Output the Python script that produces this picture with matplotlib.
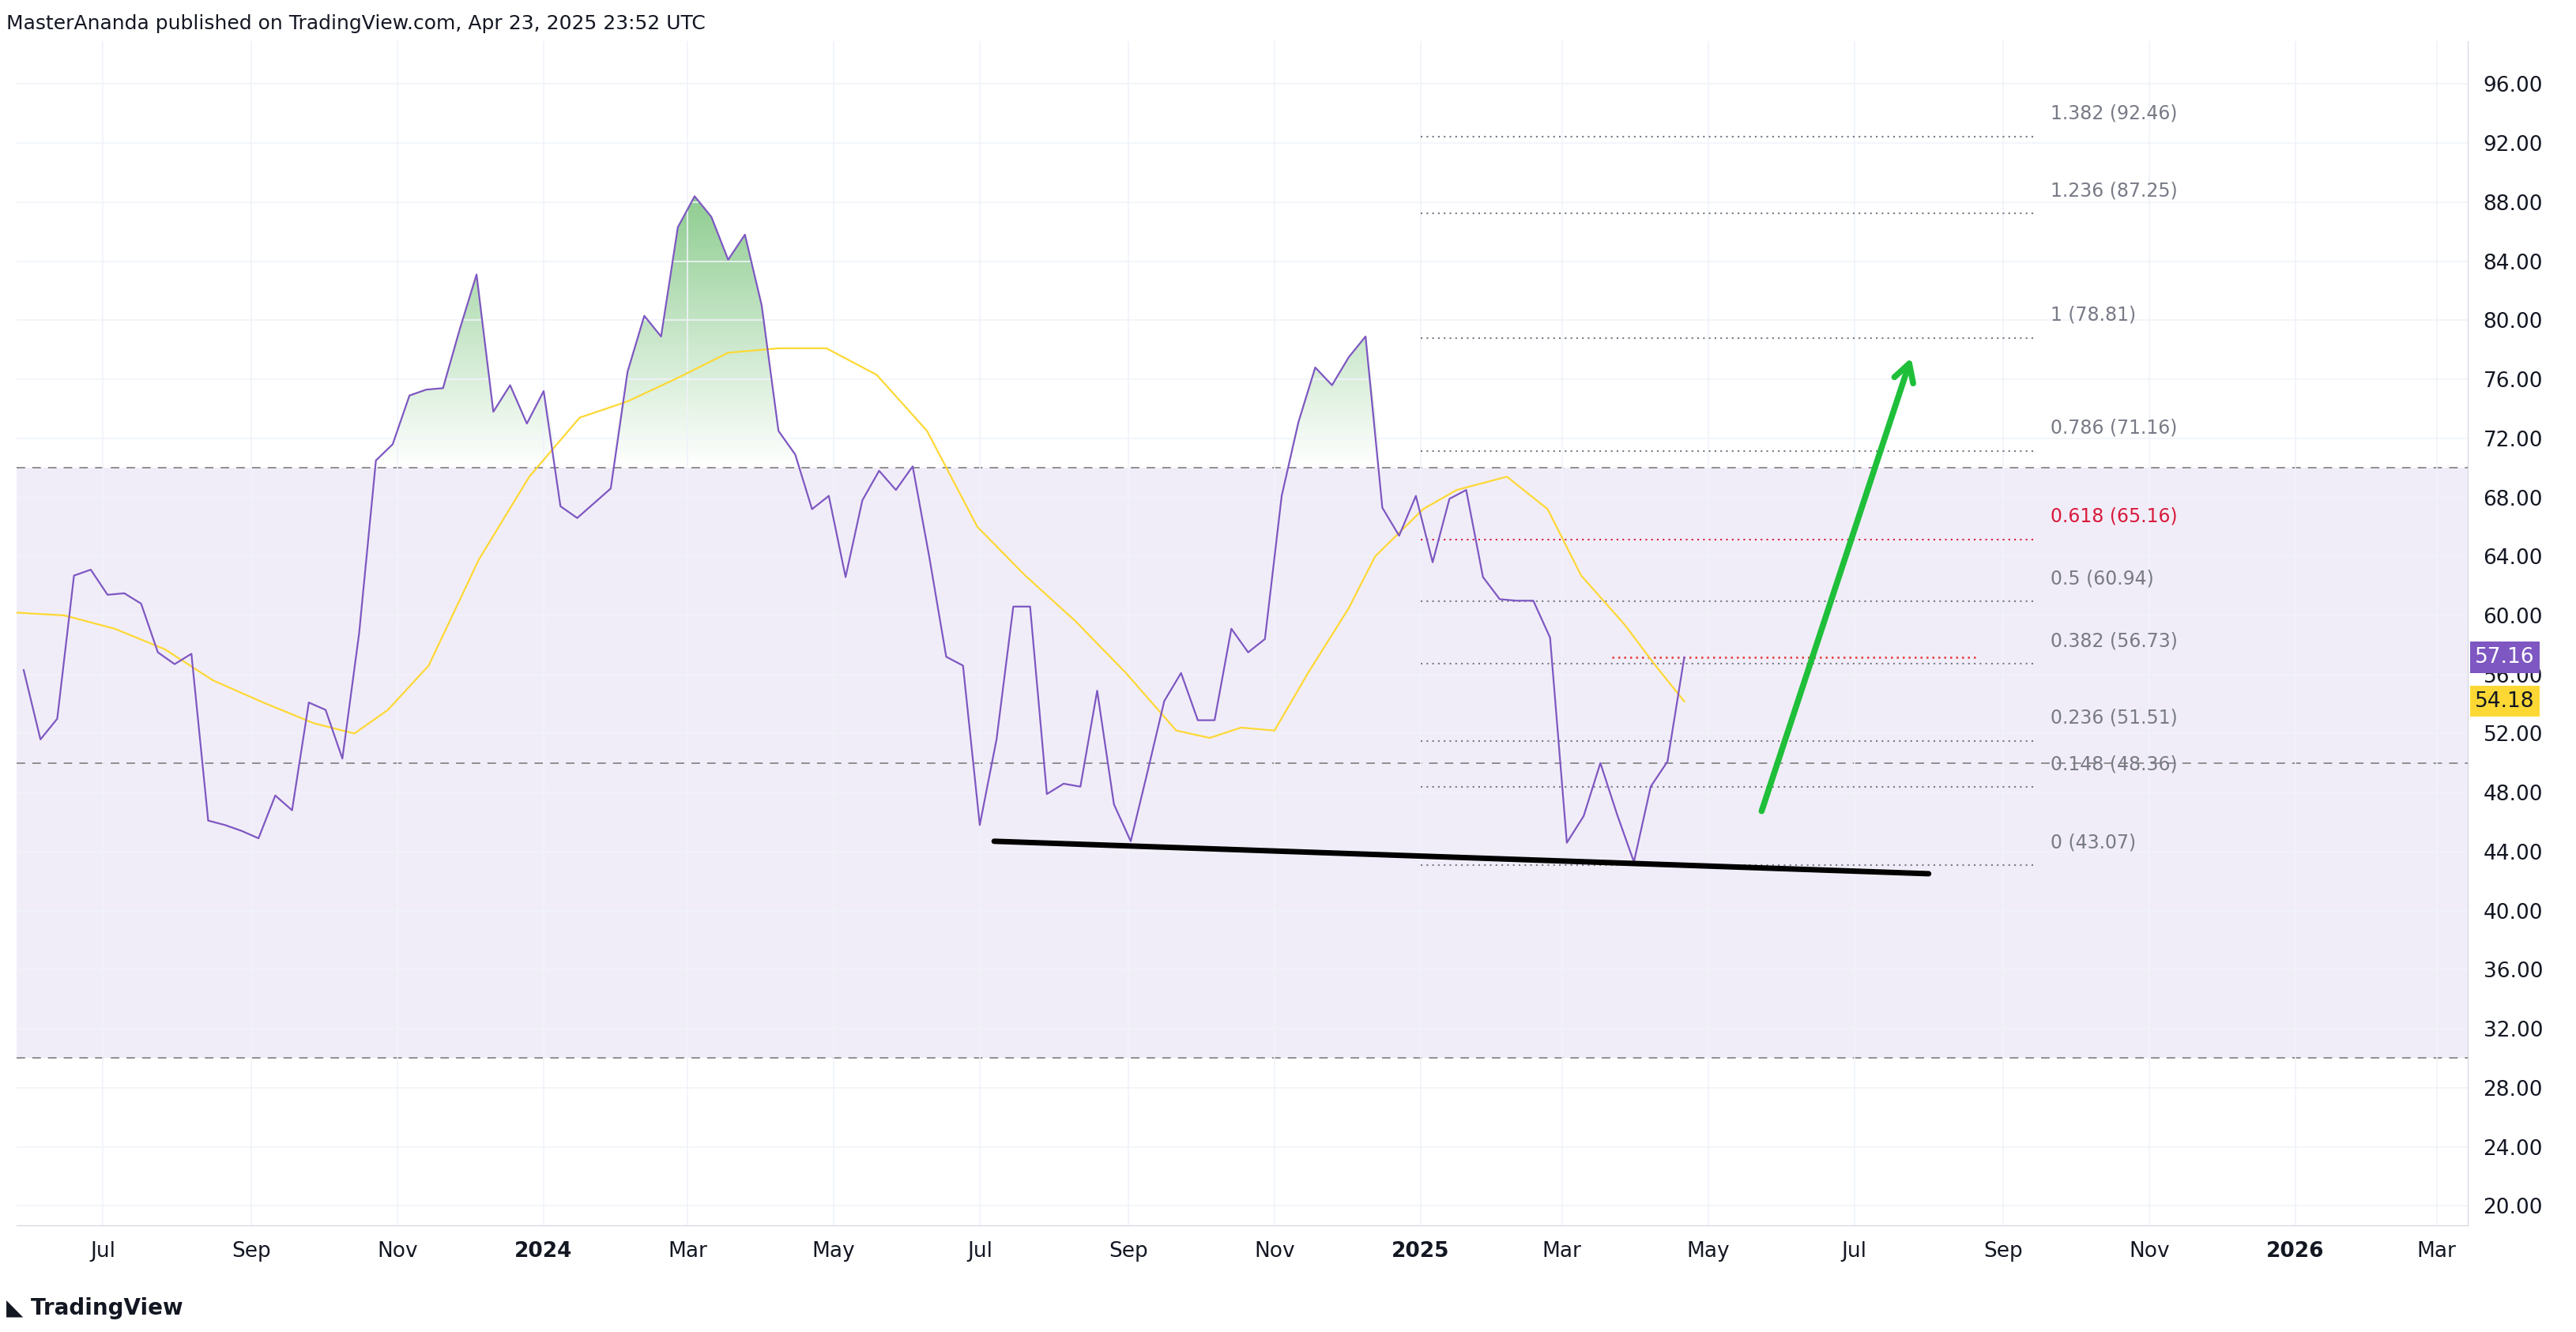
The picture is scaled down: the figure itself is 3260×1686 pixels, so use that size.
import numpy as np
import pandas as pd
import matplotlib
matplotlib.use("Agg")
import matplotlib.pyplot as plt
import matplotlib.dates as mdates
from matplotlib.path import Path
from matplotlib.colors import LinearSegmentedColormap
from matplotlib.transforms import blended_transform_factory

rsi_values = [56.3, 51.6, 53.0, 62.7, 63.1, 61.4, 61.5, 60.8, 57.5, 56.7, 57.4, 46.1, 45.8, 45.4, 44.9,
              47.8, 46.8, 54.1, 53.6, 50.3, 58.8, 70.5, 71.6, 74.9, 75.3, 75.4, 79.4, 83.1, 73.8, 75.6,
              73.0, 75.2, 67.4, 66.6, 67.6, 68.6, 76.5, 80.3, 78.9, 86.3, 88.4, 87.0, 84.1, 85.8, 81.0,
              72.5, 70.9, 67.2, 68.1, 62.6, 67.8, 69.8, 68.5, 70.1, 63.9, 57.2, 56.6, 45.8, 51.6, 60.6,
              60.6, 47.9, 48.6, 48.4, 54.9, 47.2, 44.7, 49.4, 54.2, 56.1, 52.9, 52.9, 59.1, 57.5, 58.4,
              68.1, 73.1, 76.8, 75.6, 77.5, 78.9, 67.3, 65.4, 68.1, 63.6, 67.9, 68.5, 62.6, 61.1, 61.0,
              61.0, 58.5, 44.6, 46.4, 50.0, 46.5, 43.3, 48.4, 50.1, 57.16]
rsi_end = "2025-04-21"

ma_dates = ["2023-05-25", "2023-06-15", "2023-07-06", "2023-07-27", "2023-08-16", "2023-09-06",
            "2023-09-27", "2023-10-14", "2023-10-28", "2023-11-14", "2023-12-05", "2023-12-26",
            "2024-01-16", "2024-02-05", "2024-02-26", "2024-03-18", "2024-04-08", "2024-04-28",
            "2024-05-19", "2024-06-09", "2024-06-30", "2024-07-20", "2024-08-10", "2024-08-31",
            "2024-09-21", "2024-10-05", "2024-10-18", "2024-11-01", "2024-11-15", "2024-12-02",
            "2024-12-13", "2025-01-02", "2025-01-16", "2025-02-06", "2025-02-23", "2025-03-09",
            "2025-03-27", "2025-04-09", "2025-04-21"]
ma_values = [60.2, 60.0, 59.1, 57.7, 55.6, 54.1, 52.7, 52.0, 53.6, 56.6, 63.8, 69.4, 73.4, 74.5,
             76.1, 77.8, 78.1, 78.1, 76.3, 72.5, 66.0, 62.7, 59.6, 56.1, 52.2, 51.7, 52.4, 52.2,
             56.1, 60.5, 64.0, 67.2, 68.5, 69.4, 67.2, 62.7, 59.4, 56.6, 54.18]

fib_ratios = ["0", "0.148", "0.236", "0.382", "0.5", "0.618", "0.786", "1", "1.236", "1.382"]
fib_levels = [43.07, 48.36, 51.51, 56.73, 60.94, 65.16, 71.16, 78.81, 87.25, 92.46]
fib_start, fib_end, fib_label_x = "2025-01-01", "2025-09-15", "2025-09-21"

trend_dates = ["2024-07-07", "2025-08-01"]
trend_values = [44.7, 42.5]
arrow_dates = ["2025-05-23", "2025-07-25"]
arrow_values = [46.6, 77.6]
last_line_dates = ["2025-03-22", "2025-08-21"]

PURPLE = "#7e57c2"
YELLOW = "#fdd835"

rsi_dates = pd.date_range(end=rsi_end, periods=len(rsi_values), freq="7D")
xr = mdates.date2num(rsi_dates)
yr = np.array(rsi_values)

fig = plt.figure(figsize=(32.6, 16.86), dpi=100)
ax = fig.add_axes([0.0064, 0.080, 0.9516, 0.889])
xmin, xmax = mdates.datestr2num("2023-05-26"), mdates.datestr2num("2026-03-14")
YLIM = (18.67, 98.9)

ax.axhspan(30, 70, color=PURPLE, alpha=0.1, lw=0, zorder=0)
for lvl in (30, 50, 70):
    ax.axhline(lvl, color="#888888", lw=1.3, ls=(0, (6, 5)), zorder=1)

poly = ax.fill_between(xr, np.maximum(yr, 70), 70, where=yr >= 70, interpolate=True,
                       color="none", lw=0)
paths = poly.get_paths()
if paths:
    cpath = Path.make_compound_path(*paths)
    cmap = LinearSegmentedColormap.from_list("g", [(0.30, 0.69, 0.31, 0.0), (0.30, 0.69, 0.31, 0.65)])
    grad = np.linspace(0, 1, 256).reshape(-1, 1)
    im = ax.imshow(grad, cmap=cmap, origin="lower", aspect="auto",
                   extent=[xmin, xmax, 70, 89], zorder=1)
    im.set_clip_path(cpath, transform=ax.transData)
ax.set_xlim(xmin, xmax)
ax.set_ylim(*YLIM)

ax.plot(mdates.datestr2num(ma_dates), ma_values, color=YELLOW, lw=1.6, zorder=3)
ax.plot(xr, yr, color=PURPLE, lw=1.6, zorder=4)

fs, fe, fl = map(mdates.datestr2num, (fib_start, fib_end, fib_label_x))
for r, v in zip(fib_ratios, fib_levels):
    c = "#d81b3c" if r == "0.618" else "#787b86"
    ax.plot([fs, fe], [v, v], color=c, lw=1.5, ls=(0, (1, 2.5)), zorder=2)
    ax.text(fl, v + 0.9, f"{r} ({v:.2f})", color=c, fontsize=17, ha="left", va="bottom")

ld = mdates.datestr2num(last_line_dates)
ax.plot(ld, [rsi_values[-1]] * 2, color="#e53935", lw=1.8, ls=(0, (1, 2)), zorder=2)

ax.plot(mdates.datestr2num(trend_dates), trend_values, color="black", lw=5, solid_capstyle="round", zorder=5)
ad = mdates.datestr2num(arrow_dates)
ax.annotate("", xy=(ad[1], arrow_values[1]), xytext=(ad[0], arrow_values[0]),
            arrowprops=dict(arrowstyle="->,head_length=1.6,head_width=0.9", color="#1fbf3a", lw=5.5),
            zorder=6)

ax.yaxis.tick_right()
ax.set_yticks(np.arange(20, 97, 4))
ax.set_yticklabels([f"{v:.2f}" for v in np.arange(20, 97, 4)])
ticks, labels = [], []
for y in (2023, 2024, 2025, 2026):
    for m in (1, 3, 5, 7, 9, 11):
        d = mdates.date2num(pd.Timestamp(y, m, 1))
        if xmin <= d <= xmax:
            ticks.append(d)
            labels.append(str(y) if m == 1 else pd.Timestamp(y, m, 1).strftime("%b"))
ax.set_xticks(ticks)
ax.set_xticklabels(labels)
for t in ax.get_xticklabels():
    if t.get_text().isdigit():
        t.set_fontweight("bold")
ax.tick_params(axis="both", labelsize=19, colors="#131722", length=0, pad=14)
ax.grid(True, color="#f0f3fa", lw=1.2, zorder=0)
for s in ("top", "left"):
    ax.spines[s].set_visible(False)
ax.spines["right"].set_color("#d1d4dc")
ax.spines["bottom"].set_color("#d1d4dc")

tr = blended_transform_factory(ax.transAxes, ax.transData)
ax.text(1.003, rsi_values[-1], f"{rsi_values[-1]:.2f}", transform=tr, fontsize=19, color="white",
        va="center", ha="left", bbox=dict(boxstyle="square,pad=0.25", fc=PURPLE, ec="none"), zorder=10)
ax.text(1.003, ma_values[-1], f"{ma_values[-1]:.2f}", transform=tr, fontsize=19, color="#131722",
        va="center", ha="left", bbox=dict(boxstyle="square,pad=0.25", fc=YELLOW, ec="none"), zorder=10)

fig.text(0.0025, 0.982, "MasterAnanda published on TradingView.com, Apr 23, 2025 23:52 UTC",
         fontsize=18, color="#131722", va="center")
fig.text(0.0025, 0.018, "\u25e3 TradingView", fontsize=20, fontweight="bold", color="#131722", va="center")

fig.savefig("out.png", dpi=100)
